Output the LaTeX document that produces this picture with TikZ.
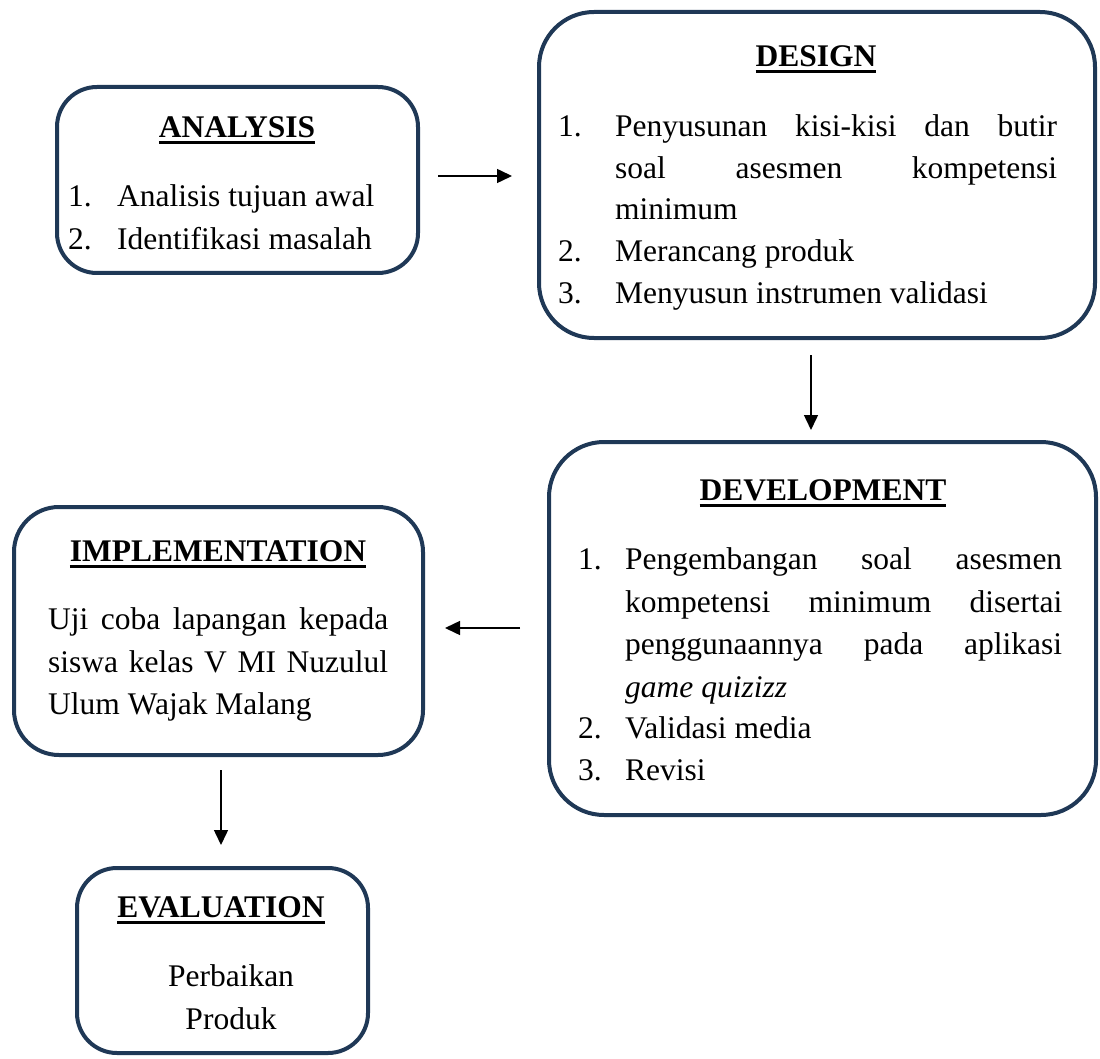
\documentclass[tikz,border=0pt]{standalone}
\usepackage{fontspec}
\setmainfont{Liberation Serif}
\usetikzlibrary{arrows.meta}
\definecolor{boxc}{RGB}{31,56,86}
\newcommand\uttl[1]{\setbox0\hbox{\bfseries #1}\rlap{\vrule width \wd0 height -3.5pt depth 6.5pt}\box0}
\newcommand\jl[2]{\hbox to #1{#2}}
\tikzset{
  box/.style={draw=boxc, line width=4pt, rounded corners=#1, inner sep=0pt},
  box/.default=40pt,
  txt/.style={anchor=base west, inner sep=0pt, font=\fontsize{31.5}{43}\selectfont},
  ttl/.style={anchor=base, inner sep=0pt, font=\fontsize{31.5}{43}\selectfont},
  ctr/.style={anchor=base, inner sep=0pt, font=\fontsize{31.5}{43}\selectfont},
  arr/.style={line width=1.5pt, -{Triangle[length=15pt,width=14pt]}}
}
\begin{document}
\begin{tikzpicture}[x=1pt,y=-1pt]
\useasboundingbox (0,0) rectangle (1100,1059);
% boxes
\node[box=40pt, minimum width=361pt, minimum height=186pt] (ana) at (237.5,180) {};
\node[box=55pt, minimum width=556pt, minimum height=326pt] (des) at (817,175) {};
\node[box=55pt, minimum width=547pt, minimum height=373pt] (dev) at (822.5,628.5) {};
\node[box=45pt, minimum width=409pt, minimum height=248pt] (imp) at (218.5,631) {};
\node[box=40pt, minimum width=291pt, minimum height=185pt] (eva) at (222.5,960.5) {};
% ANALYSIS
\node[ttl] (anat) at (237,138) {\uttl{ANALYSIS}};
\node[txt] (ana1n) at (68,207) {1.};
\node[txt] (ana1) at (117,207) {Analisis tujuan awal};
\node[txt] (ana2n) at (68,250) {2.};
\node[txt] (ana2) at (117,250) {Identifikasi masalah};
% DESIGN
\node[ttl] (dest) at (816,67) {\uttl{DESIGN}};
\node[txt] (des1n) at (558,137) {1.};
\node[txt] (des1a) at (615,137) {\jl{442pt}{Penyusunan\hfill kisi-kisi\hfill dan\hfill butir}};
\node[txt] (des1b) at (615,179) {\jl{442pt}{soal\hfill asesmen\hfill kompetensi}};
\node[txt] (des1c) at (615,220) {minimum};
\node[txt] (des2n) at (558,262) {2.};
\node[txt] (des2) at (615,262) {Merancang produk};
\node[txt] (des3n) at (558,304) {3.};
\node[txt] (des3) at (615,304) {Menyusun instrumen validasi};
% DEVELOPMENT
\node[ttl] (devt) at (823,500) {\uttl{DEVELOPMENT}};
\node[txt] (dev1n) at (578,569) {1.};
\node[txt] (dev1a) at (625,569) {\jl{437pt}{Pengembangan\hfill soal\hfill asesmen}};
\node[txt] (dev1b) at (625,612) {\jl{437pt}{kompetensi\hfill minimum\hfill disertai}};
\node[txt] (dev1c) at (625,654) {\jl{437pt}{penggunaannya\hfill pada\hfill aplikasi}};
\node[txt] (dev1d) at (625,697) {\itshape game quizizz};
\node[txt] (dev2n) at (578,738) {2.};
\node[txt] (dev2) at (625,738) {Validasi media};
\node[txt] (dev3n) at (578,780) {3.};
\node[txt] (dev3) at (625,780) {Revisi};
% IMPLEMENTATION
\node[ttl] (impt) at (218,561) {\uttl{IMPLEMENTATION}};
\node[txt] (imp1) at (48,629) {\jl{340pt}{Uji\hfill coba\hfill lapangan\hfill kepada}};
\node[txt] (imp2) at (48,672) {\jl{340pt}{siswa\hfill kelas\hfill V\hfill MI\hfill Nuzulul}};
\node[txt] (imp3) at (48,714) {Ulum Wajak Malang};
% EVALUATION
\node[ttl] (evat) at (221,917) {\uttl{EVALUATION}};
\node[ctr] (eva1) at (231,986) {Perbaikan};
\node[ctr] (eva2) at (231,1029) {Produk};
% arrows
\draw[arr, shorten <=18pt, shorten >=25pt] (ana.east |- 0,176) -- (des.west |- 0,176);
\draw[arr, shorten <=15pt, shorten >=10pt] (des.south -| 811,0) -- (dev.north -| 811,0);
\draw[arr, shorten <=27pt, shorten >=20pt] (dev.west |- 0,628) -- (imp.east |- 0,628);
\draw[arr, shorten <=13pt, shorten >=21pt] (imp.south -| 221,0) -- (eva.north -| 221,0);
\end{tikzpicture}
\end{document}
